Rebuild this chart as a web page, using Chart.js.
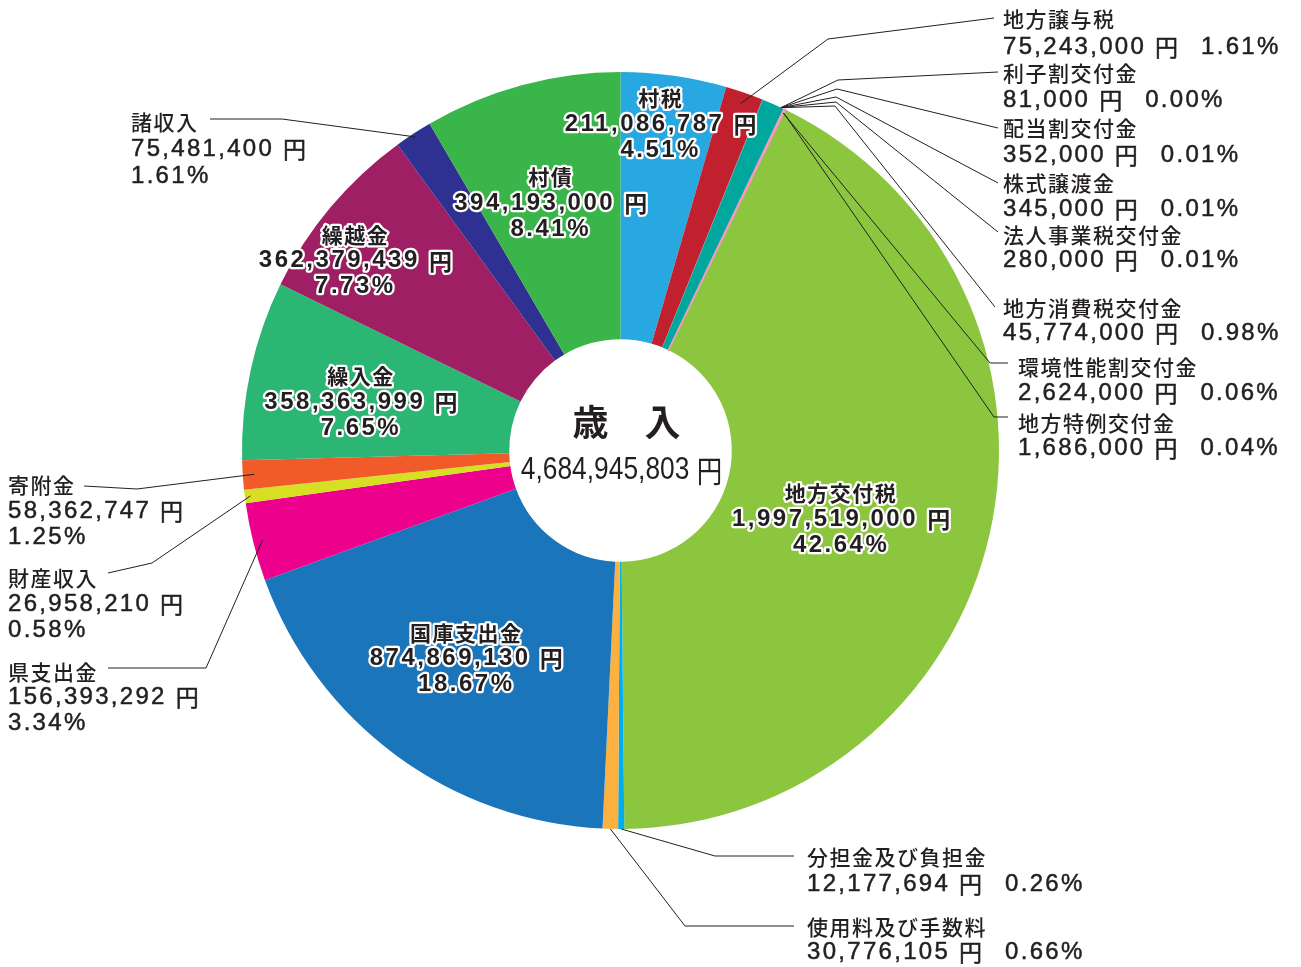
<!DOCTYPE html>
<html lang="ja">
<head>
<meta charset="utf-8">
<script src="https://cdn.jsdelivr.net/npm/chart.js@4.4.1/dist/chart.umd.min.js"></script>
<style>
html, body { margin: 0; padding: 0; background: #fff; }
#wrap { width: 1301px; height: 967px; }
</style>
</head>
<body>
<div id="wrap"><canvas id="revenueChart" width="1301" height="967"></canvas></div>
<script>
// 歳入の内訳（円）
const categories = [
    '村税', '地方譲与税', '利子割交付金', '配当割交付金', '株式譲渡金',
    '法人事業税交付金', '地方消費税交付金', '環境性能割交付金', '地方特例交付金', '地方交付税',
    '分担金及び負担金', '使用料及び手数料', '国庫支出金', '県支出金', '財産収入',
    '寄附金', '繰入金', '繰越金', '諸収入', '村債'
]
const amounts = [
    211086787, 75243000, 81000, 352000, 345000,
    280000, 45774000, 2624000, 1686000, 1997519000,
    12177694, 30776105, 874869130, 156393292, 26958210,
    58362747, 358363999, 362379439, 75481400, 394193000
]
const percents = [
    '4.51', '1.61', '0.00', '0.01', '0.01',
    '0.01', '0.98', '0.06', '0.04', '42.64',
    '0.26', '0.66', '18.67', '3.34', '0.58',
    '1.25', '7.65', '7.73', '1.61', '8.41'
]
const totalTitle = '歳　入'
const totalAmount = 4684945803

const sliceColors = [
    '#27a8e0', '#c1202f', '#f7941d', '#662d91', '#8b5e3c',
    '#00a651', '#00a79d', '#f49ac1', '#f49ac1', '#8cc63f',
    '#00aeef', '#fbb040', '#1b75bb', '#ec008c', '#d7df23',
    '#f15a29', '#2bb673', '#9e1f63', '#2e3192', '#39b54a'
]
// thin outline only on the hair-thin pink slices so they stay visible
const sliceBorders = [0, 0, 0, 0, 0, 0, 0, 2, 2, 0, 0, 0, 0, 0, 0, 0, 0, 0, 0, 0]

// label placement (text boxes and leader elbows)
const labelLayout = [
    {inside: true, r: 329, da: -1.1},
    {anchor: [1, 0.5, 0.97], path: [[828, 39], [994, 18]], x: 1003, ys: [19, 47]},
    {anchor: [6, 0.85, 1], path: [[838, 80], [998, 72]], x: 1003, ys: [73, 100]},
    {anchor: [6, 0.85, 1], path: [[837, 89], [998, 128]], x: 1003, ys: [128, 155]},
    {anchor: [6, 0.85, 1], path: [[836, 97], [998, 183]], x: 1003, ys: [183, 209]},
    {anchor: [6, 0.85, 1], path: [[836, 102], [998, 232]], x: 1003, ys: [235, 260]},
    {anchor: [6, 0.85, 1], path: [[835, 106], [995, 307]], x: 1003, ys: [308, 333]},
    {anchor: [7, 0.5, 0.99], path: [[990, 363], [1008, 363]], x: 1018, ys: [367, 393]},
    {anchor: [8, 0.5, 0.99], path: [[994, 417], [1008, 417]], x: 1018, ys: [423, 448]},
    {inside: true, r: 231, da: 4.6},
    {anchor: [10, 0.5, 1], path: [[715, 856], [794, 856]], x: 807, ys: [857, 884]},
    {anchor: [11, 0.5, 1], path: [[685, 926], [794, 926]], x: 807, ys: [927, 952]},
    {inside: true, r: 259, da: 0.2},
    {anchor: [13, 0.5, 0.975], path: [[206, 668], [108, 668]], x: 8, ys: [672, 697, 723]},
    {anchor: [14, 0.5, 0.985], path: [[152, 563], [108, 573]], x: 8, ys: [578, 604, 630]},
    {anchor: [15, 0.5, 0.97], path: [[137, 489], [84, 486]], x: 8, ys: [485, 511, 537]},
    {inside: true, r: 264, da: -1.8},
    {inside: true, r: 326, da: -4.4},
    {anchor: [18, 0.5, 0.99], path: [[282, 119], [210, 119]], x: 131, ys: [122, 149, 176]},
    {inside: true, r: 257, da: -0.6}
]

const INK = '#231f20'
const NUM_FONT = '24px "Liberation Sans", Arial, sans-serif'
const NUM_BOLD = 'bold 24px "Liberation Sans", Arial, sans-serif'
const JP_FONT = '500 21px "Noto Sans CJK JP", sans-serif'
const JP_BOLD = 'bold 21px "Noto Sans CJK JP", sans-serif'
const YEN_FONT = '23px "Noto Sans CJK JP", sans-serif'
const YEN_BOLD = 'bold 23px "Noto Sans CJK JP", sans-serif'

const fmt = (n) => n.toLocaleString('en-US')

const measureSegs = (ctx, segs) => {
    let w = 0
    segs.forEach(s => {
        ctx.font = s.font
        ctx.letterSpacing = s.ls || '0px'
        w += ctx.measureText(s.text).width
    })
    return w
}

// passes: 'stroke' for outline, 'fill' for text body
const drawSegs = (ctx, segs, x, y, align, passes) => {
    const w = measureSegs(ctx, segs)
    const x0 = align === 'center' ? x - w / 2 : x
    ;(passes || ['fill']).forEach(p => {
        let cx = x0
        segs.forEach(s => {
            ctx.font = s.font
            ctx.letterSpacing = s.ls || '0px'
            if (p === 'stroke') ctx.strokeText(s.text, cx, y)
            else ctx.fillText(s.text, cx, y)
            cx += ctx.measureText(s.text).width
        })
    })
}

const pointOnArc = (arc, at, rf) => {
    const a = arc.startAngle + (arc.endAngle - arc.startAngle) * at
    const r = arc.outerRadius * rf
    return [arc.x + r * Math.cos(a), arc.y + r * Math.sin(a)]
}

const sliceLabels = {
    id: 'sliceLabels',
    afterDatasetsDraw(chart) {
        const ctx = chart.ctx
        const arcs = chart.getDatasetMeta(0).data
        ctx.save()
        ctx.textBaseline = 'middle'
        ctx.textAlign = 'left'

        // leader lines
        ctx.strokeStyle = INK
        ctx.lineWidth = 1
        labelLayout.forEach((lay) => {
            if (lay.inside) return
            const [si, at, rf] = lay.anchor
            const start = pointOnArc(arcs[si], at, rf)
            ctx.beginPath()
            ctx.moveTo(start[0], start[1])
            lay.path.forEach(p => ctx.lineTo(p[0], p[1]))
            ctx.stroke()
        })

        // outside texts (slight stroke to thicken the digits)
        ctx.fillStyle = INK
        ctx.lineWidth = 0.5
        const outPasses = ['stroke', 'fill']
        labelLayout.forEach((lay, i) => {
            if (lay.inside) return
            const name = [{text: categories[i], font: JP_FONT, ls: '1.5px'}]
            const num = [
                {text: fmt(amounts[i]) + ' ', font: NUM_FONT, ls: '2.3px'},
                {text: '円', font: YEN_FONT}
            ]
            const pct = [{text: percents[i] + '%', font: NUM_FONT, ls: '2.3px'}]
            drawSegs(ctx, name, lay.x, lay.ys[0], 'left')
            if (lay.ys.length === 3) {
                drawSegs(ctx, num, lay.x, lay.ys[1], 'left', outPasses)
                drawSegs(ctx, pct, lay.x, lay.ys[2], 'left', outPasses)
            } else {
                drawSegs(ctx, num.concat([{text: '　', font: YEN_FONT}], pct), lay.x, lay.ys[1], 'left', outPasses)
            }
        })

        // inside texts with white outline
        ctx.lineJoin = 'round'
        ctx.strokeStyle = '#ffffff'
        ctx.lineWidth = 4.5
        const inPasses = ['stroke', 'fill']
        labelLayout.forEach((lay, i) => {
            if (!lay.inside) return
            const arc = arcs[i]
            const mid = (arc.startAngle + arc.endAngle) / 2 + lay.da * Math.PI / 180
            const cx = arc.x + lay.r * Math.cos(mid)
            const cy = arc.y + lay.r * Math.sin(mid)
            drawSegs(ctx, [{text: categories[i], font: JP_BOLD, ls: '1.5px'}], cx, cy - 26, 'center', inPasses)
            drawSegs(ctx, [
                {text: fmt(amounts[i]) + ' ', font: NUM_BOLD, ls: '2.5px'},
                {text: '円', font: YEN_BOLD}
            ], cx, cy, 'center', inPasses)
            drawSegs(ctx, [{text: percents[i] + '%', font: NUM_BOLD, ls: '2.5px'}], cx, cy + 26, 'center', inPasses)
        })

        // centre total
        const c = arcs[0]
        drawSegs(ctx, [{text: totalTitle, font: 'bold 36px "Noto Sans CJK JP", sans-serif'}], c.x + 6, c.y - 28, 'center')
        ctx.save()
        ctx.translate(c.x + 1, c.y + 20)
        ctx.scale(0.85, 1)
        drawSegs(ctx, [
            {text: fmt(totalAmount) + ' ', font: '31px "Liberation Sans", Arial, sans-serif'},
            {text: '円', font: '30px "Noto Sans CJK JP", sans-serif'}
        ], 0, 0, 'center')
        ctx.restore()

        ctx.restore()
    }
}

const ctx = document.getElementById('revenueChart').getContext('2d')
const chart = new Chart(ctx, {
    type: 'doughnut',
    data: {
        labels: categories,
        datasets: [{
            data: amounts,
            backgroundColor: sliceColors,
            borderColor: sliceColors,
            borderWidth: sliceBorders
        }]
    },
    options: {
        responsive: false,
        animation: false,
        cutout: '29.4%',
        layout: {
            padding: {top: 71, bottom: 137, left: 241, right: 301}
        },
        plugins: {
            legend: {display: false},
            tooltip: {enabled: false}
        }
    },
    plugins: [sliceLabels]
})
</script>
</body>
</html>
